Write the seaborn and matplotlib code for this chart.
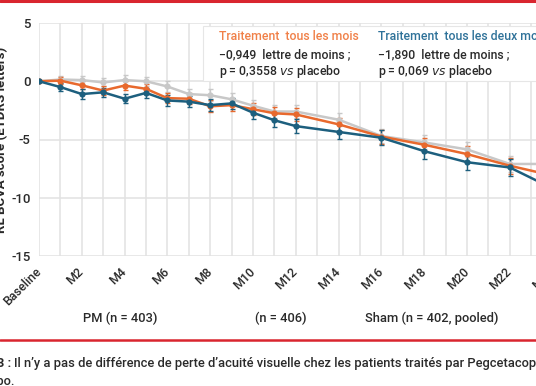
import pandas as pd
import matplotlib.pyplot as plt
import seaborn as sns
from matplotlib.patches import Rectangle

# Data
months = [0, 1, 2, 3, 4, 5, 6, 7, 8, 9, 10, 11, 12, 14, 16, 18, 20, 22, 24]
monthly = [0, 0.05, -0.35, -0.8, -0.37, -0.65, -1.45, -1.5, -2.15, -2.05,
           -2.4, -2.75, -2.85, -3.7, -4.75, -5.45, -6.25, -7.25, -8.1]
every_other = [0, -0.5, -1.1, -0.95, -1.5, -1.0, -1.65, -1.75, -2.05, -1.9,
               -2.7, -3.35, -3.85, -4.35, -4.85, -6.0, -6.95, -7.4, -9.2]
sham = [0, 0.15, 0.1, -0.1, 0.1, 0.0, -0.45, -1.1, -1.2, -1.55,
        -2.1, -2.6, -2.6, -3.3, -4.7, -5.25, -5.85, -7.1, -7.1]
err_monthly = [0, 0.3, 0.35, 0.4, 0.4, 0.4, 0.45, 0.45, 0.5, 0.5,
               0.5, 0.5, 0.55, 0.55, 0.6, 0.6, 0.65, 0.7, 0.75]
err_every_other = [0, 0.35, 0.4, 0.4, 0.4, 0.45, 0.45, 0.5, 0.5, 0.5,
                   0.55, 0.55, 0.6, 0.6, 0.65, 0.65, 0.7, 0.75, 0.8]
err_sham = [0, 0.3, 0.35, 0.35, 0.4, 0.4, 0.45, 0.45, 0.5, 0.5,
            0.5, 0.55, 0.55, 0.55, 0.6, 0.6, 0.65, 0.7, 0.75]

tick_months = list(range(0, 25))
tick_labels = ["Baseline" if m == 0 else (f"M{m}" if m % 2 == 0 else "")
               for m in tick_months]
group_labels = ["PM (n = 403)", "(n = 406)", "Sham (n = 402, pooled)"]

ORANGE = "#E8692D"
BLUE = "#1D5F7E"
GREY = "#C8C8C8"
RED = "#D9252F"
TXT = "#2A2A2A"

df = pd.concat([
    pd.DataFrame({"month": months, "value": sham, "err": err_sham, "group": "Sham"}),
    pd.DataFrame({"month": months, "value": monthly, "err": err_monthly, "group": "PM"}),
    pd.DataFrame({"month": months, "value": every_other, "err": err_every_other, "group": "PEOM"}),
])
palette = {"Sham": GREY, "PM": ORANGE, "PEOM": BLUE}

sns.set_theme(style="white")
plt.rcParams["font.family"] = ["Roboto", "DejaVu Sans"]

W, H = 536, 386
fig = plt.figure(figsize=(W / 100, H / 100), dpi=100)

# axes in pixel terms: baseline at x=39, 5 at y=23, -15 at y=256, 21.4 px per month
x0, px_month = 39, 21.4
xmax = 24.4
ax = fig.add_axes([x0 / W, 1 - 256 / H, xmax * px_month / W, (256 - 23) / H])

for name, grp in df.groupby("group", sort=False):
    ax.errorbar(grp["month"], grp["value"], yerr=grp["err"], fmt="none",
                ecolor=palette[name], elinewidth=1.0, capsize=1.8, capthick=1.0,
                zorder=3)

sns.lineplot(data=df, x="month", y="value", hue="group", palette=palette,
             marker="o", markersize=4.5, markeredgewidth=0, linewidth=1.8,
             legend=False, ax=ax, zorder=4, sort=False)

ax.set_xlim(0, xmax)
ax.set_ylim(-15, 5)
ax.set_xticks(tick_months)
ax.set_xticklabels(tick_labels, rotation=45, ha="right", va="center",
                   rotation_mode="anchor", fontsize=9, fontweight="medium", color=TXT)
ax.set_yticks([5, 0, -5, -10, -15])
ax.set_yticklabels(["5", "0", "-5", "-10", "-15"], fontsize=9.5, fontweight="medium",
                   color=TXT)
ax.tick_params(axis="x", length=0, pad=10)
ax.tick_params(axis="y", length=0, pad=6)
ax.grid(True, color="#E2E2E2", linewidth=1.1)
ax.set_axisbelow(True)
for s in ax.spines.values():
    s.set_visible(False)
ax.set_xlabel("")
ax.set_ylabel("")

# white annotation box over the upper right of the plot
box = Rectangle((203 / W, 1 - 81 / H), 1, (81 - 26) / H, transform=fig.transFigure,
                facecolor="white", edgecolor="#E6E6E6", linewidth=0.8, zorder=5)
fig.add_artist(box)

ann = dict(fontsize=8.8, fontweight="medium", va="center", zorder=6)
fig.text(219 / W, 1 - 37 / H, "Traitement  tous les mois", color="#F08048", **ann)
fig.text(219 / W, 1 - 55 / H, "\u22120,949  lettre de moins ;", color=TXT, **ann)
fig.text(219 / W, 1 - 72 / H, "p = 0,3558 $\\it{vs}$ placebo", color=TXT, **ann)
fig.text(378 / W, 1 - 37 / H, "Traitement  tous les deux mois", color="#2F7299", **ann)
fig.text(378 / W, 1 - 55 / H, "\u22121,890  lettre de moins ;", color=TXT, **ann)
fig.text(378 / W, 1 - 72 / H, "p = 0,069 $\\it{vs}$ placebo", color=TXT, **ann)

# y label, cut by the left edge
fig.text(2 / W, 1 - 140 / H, "RL BCVA score (ETDRS letters)", rotation=90,
         ha="center", va="center", fontsize=9.5, fontweight="bold", color=TXT)

# group labels under the x axis
for label, xc in zip(group_labels, [120, 281, 432]):
    fig.text(xc / W, 1 - 318 / H, label, ha="center", va="center",
             fontsize=9.3, fontweight="medium", color=TXT)

# red rules
fig.add_artist(plt.Line2D([0, 1], [1 - 1 / H, 1 - 1 / H], color=RED, linewidth=2.2,
                          transform=fig.transFigure))
fig.add_artist(plt.Line2D([0, 1], [1 - 340 / H, 1 - 340 / H], color=RED, linewidth=1.8,
                          transform=fig.transFigure))

# caption, cut at both sides
fig.text(11 / W, 1 - 363 / H, "Figure 3 :", ha="right", va="center",
         fontsize=9.3, fontweight="bold", color=TXT)
fig.text(14 / W, 1 - 363 / H,
         "Il n\u2019y a pas de diff\u00e9rence de perte d\u2019acuit\u00e9 visuelle chez les patients "
         "trait\u00e9s par Pegcetacoplan vs placebo.",
         ha="left", va="center", fontsize=9.3, fontweight="medium", color=TXT)
fig.text(14 / W, 1 - 381 / H, "par rapport au placebo.", ha="right", va="center",
         fontsize=9.3, fontweight="medium", color=TXT)

fig.savefig("out.png", dpi=100)
